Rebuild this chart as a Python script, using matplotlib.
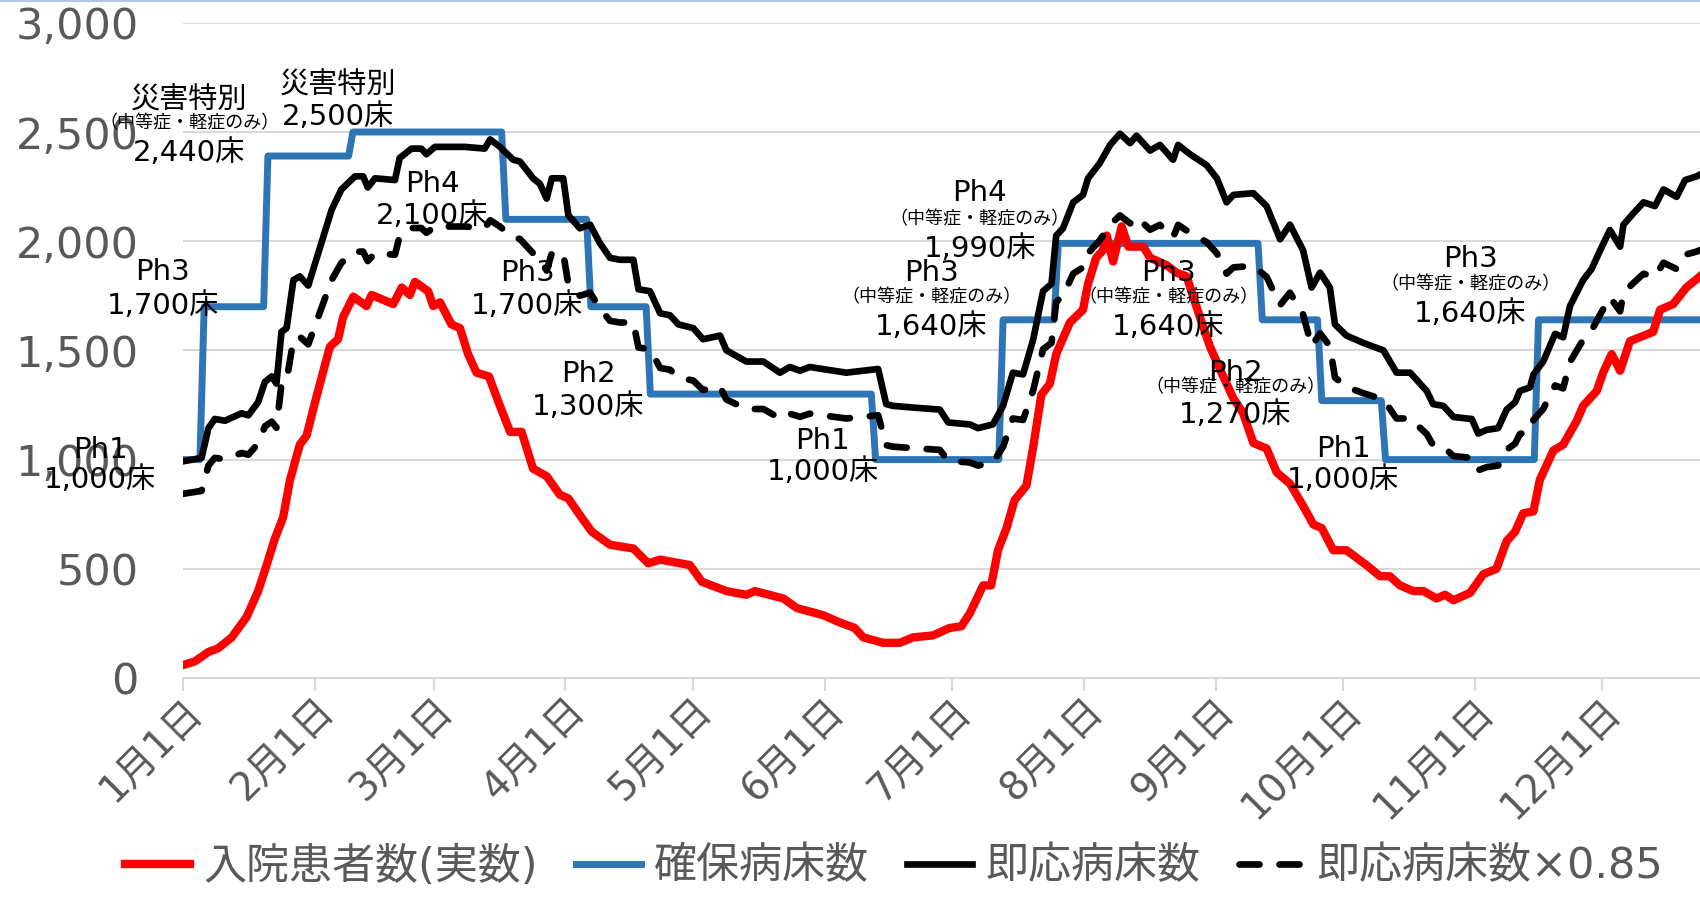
import matplotlib
matplotlib.use('Agg')
import matplotlib.pyplot as plt
import numpy as np
from matplotlib.lines import Line2D
from matplotlib.transforms import ScaledTranslation

plt.rcParams['font.family'] = ['DejaVu Sans', 'Noto Sans CJK JP']

# x axis: day of year (0 = 1月1日)
month_days = [0, 31, 59, 90, 120, 151, 181, 212, 243, 273, 304, 334]
month_labels = ['1月1日', '2月1日', '3月1日', '4月1日', '5月1日', '6月1日',
                '7月1日', '8月1日', '9月1日', '10月1日', '11月1日', '12月1日']

# 入院患者数(実数)
red_days = [0, 2.8, 6, 8.3, 11.5, 15, 17.7, 19.7, 21.6, 23.6, 25.2, 27.5, 29.1, 31.1,
            33.4, 34.6, 36.5, 37.7, 40.1, 43.2, 44.4, 49.5, 51.5, 53.4, 54.6, 57.7,
            58.9, 60.5, 63.2, 65.2, 67.1, 69.1, 72, 74.6, 77, 79.7, 82.4, 85.6, 88.7,
            90.7, 93.4, 96.2, 100.5, 106, 109.5, 112.3, 119.3, 122.1, 127.9, 132.6,
            134.6, 141.3, 144.5, 150.6, 154.6, 158.1, 160.1, 164.8, 168.7, 171.8,
            176.5, 180.4, 183.2, 185.2, 188.3, 190.2, 191.8, 193.8, 195.7, 198.5,
            200.1, 202, 204, 205.5, 208.7, 211.8, 213, 214.9, 216.5, 217.4, 218.9,
            220.9, 222.5, 226, 227.6, 231.5, 233.8, 236.2, 239.3, 241.7, 244.4,
            247.2, 249.5, 251.9, 255, 257.4, 260.5, 263.6, 266, 268, 270.7, 273.8,
            278.5, 281.7, 284, 286.4, 289.5, 291.9, 295, 297, 299, 302.9, 306,
            309.1, 311.5, 313.5, 315.4, 317.8, 319.3, 322.5, 324.8, 328, 329.5,
            332.7, 334.2, 336.2, 338.2, 340.5, 346, 347.6, 350.7, 353.8, 357]
red_vals = [59, 76, 119, 136, 186, 280, 398, 517, 636, 737, 907, 1068, 1110, 1263,
            1432, 1517, 1551, 1653, 1746, 1703, 1754, 1712, 1788, 1754, 1814, 1771,
            1703, 1720, 1619, 1602, 1483, 1398, 1381, 1246, 1127, 1127, 958, 924, 839,
            822, 746, 670, 610, 593, 525, 542, 517, 441, 398, 381,
            398, 364, 320, 288, 254, 229, 186, 161, 161, 186,
            195, 229, 237, 297, 424, 424, 585, 686, 814, 881,
            1059, 1297, 1347, 1483, 1627, 1686, 1805, 1924, 1958, 2026, 1907,
            2068, 1975, 1975, 1924, 1890, 1856, 1839, 1653, 1517, 1398,
            1280, 1212, 1076, 1051, 941, 890, 788, 703, 686, 585, 585,
            517, 466, 466, 424, 398, 398, 364, 381, 356, 390, 475,
            500, 627, 670, 754, 763, 907, 1042, 1068, 1178, 1246,
            1314, 1398, 1483, 1407, 1542, 1585, 1686, 1712, 1788, 1839]

# 即応病床数
black_days = [0, 4.4, 6, 7.5, 9.9, 13.8, 15.4, 17.7, 19.3, 20.9, 22, 23.2, 24.4, 26,
              27.5, 29.5, 32.6, 35, 37.3, 40.5, 42.4, 43.5, 45.2, 49.9, 51, 53.8, 56.1,
              57.3, 59.3, 66.3, 71, 72.3, 74.6, 77.7, 79.3, 82.4, 84, 85.6, 86.8, 89.5,
              90.7, 93.4, 95.8, 98.1, 100.5, 102.8, 106, 107.2, 109.9, 112.3, 114.6,
              116.6, 120.1, 122.4, 126.4, 127.9, 132.6, 136.6, 140.5, 142.8, 145.2,
              147.5, 156.1, 163.6, 165.5, 167.1, 172.6, 178.1, 180.1, 185.2, 187.1,
              190.6, 193, 195.3, 197.7, 200.1, 202.4, 204.4, 205.5, 207.1, 209.5,
              211.8, 213, 215.7, 218.2, 220.5, 222.9, 224.4, 227.6, 229.9, 233,
              234.2, 237, 240.9, 243.3, 245.6, 247.2, 251.9, 255, 258.2, 260.5,
              263.6, 265.6, 267.6, 269.9, 271.1, 273.8, 277.8, 282.5, 285.6, 288.8,
              292.7, 294.2, 296.6, 299, 303.3, 304.8, 306.8, 309.5, 311.5, 313.5,
              314.6, 317, 317.8, 320.1, 322.9, 324.8, 326.4, 329.5, 331.5, 333.5,
              335.8, 338.2, 339, 341.3, 343.7, 346.4, 348.4, 351.5, 353.5, 356.2, 357]
black_vals = [992, 1008, 1144, 1186, 1178, 1212, 1203, 1263, 1356, 1381, 1348, 1585, 1602, 1822,
              1839, 1797, 1992, 2144, 2237, 2297, 2297, 2246, 2288, 2280, 2381, 2424, 2424,
              2398, 2432, 2432, 2424, 2466, 2432, 2373, 2365, 2288, 2263, 2195, 2288, 2288,
              2119, 2059, 2076, 1992, 1924, 1915, 1915, 1780, 1771, 1670, 1661,
              1619, 1602, 1551, 1568, 1500, 1449, 1449, 1398, 1424, 1407,
              1424, 1398, 1415, 1254, 1246, 1237, 1229, 1170, 1161, 1144,
              1161, 1246, 1398, 1390, 1551, 1771, 1805, 2026, 2059, 2178,
              2212, 2288, 2356, 2441, 2492, 2449, 2483, 2415, 2441, 2373,
              2441, 2398, 2348, 2288, 2178, 2212, 2220, 2161, 2009, 2076,
              1958, 1788, 1856, 1788, 1619, 1568, 1534, 1500, 1398, 1398,
              1314, 1254, 1246, 1195, 1186, 1119, 1136, 1144, 1229, 1263,
              1314, 1331, 1390, 1449, 1576, 1560, 1703, 1822, 1873, 1958,
              2051, 1975, 2076, 2127, 2178, 2161, 2237, 2203, 2280, 2297, 2305]

# 即応病床数×0.85
dashed_vals = [v * 0.85 for v in black_vals]

# 確保病床数 (step: day it starts, value)
blue_start = [0, 5, 20, 40, 76, 96, 110, 163, 193, 206, 254, 268, 283, 319]
blue_vals = [1000, 1700, 2390, 2500, 2100, 1700, 1300, 1000, 1640, 1990, 1640, 1270, 1000, 1640]
last_day = 358

blue_days = np.arange(0, last_day)
blue_series = np.zeros(len(blue_days))
for s, v in zip(blue_start, blue_vals):
    blue_series[blue_days >= s] = v

# annotations
small = '（中等症・軽症のみ）'
ann_x = [1.5, 1.5, 1.5, 36.5, 36.5, -4.8, -4.8, -19.5, -19.5, 58.7, 58.7,
         81, 81, 95.4, 95.4, 150.5, 150.5,
         187.5, 187.5, 187.5, 176.1, 176.1, 176.1, 231.9, 231.9, 231.9,
         247.6, 247.6, 247.6, 273, 273, 302.9, 302.9, 302.9]
ann_y = [2645, 2540, 2405, 2715, 2570, 1858, 1705, 1045, 908, 2260, 2115,
         1855, 1705, 1390, 1240, 1085, 945,
         2222, 2100, 1965, 1855, 1744, 1605, 1855, 1744, 1605,
         1395, 1332, 1205, 1050, 905, 1920, 1803, 1665]
ann_text = ['災害特別', small, '2,440床', '災害特別', '2,500床', 'Ph3', '1,700床', 'Ph1', '1,000床',
            'Ph4', '2,100床', 'Ph3', '1,700床', 'Ph2', '1,300床', 'Ph1', '1,000床',
            'Ph4', small, '1,990床', 'Ph3', small, '1,640床', 'Ph3', small, '1,640床',
            'Ph2', small, '1,270床', 'Ph1', '1,000床', 'Ph3', small, '1,640床']

gray = '#595959'
grid_c = '#D9D9D9'
red_c = '#FF0000'
blue_c = '#2E75B6'
dash = (0, (3, 3))

fig = plt.figure(figsize=(17, 8.98), dpi=100)
ax = fig.add_axes([0.1076, 0.245, 0.8924, 0.7296])

ax.plot(blue_days, blue_series, color=blue_c, lw=5, zorder=2)
ax.plot(red_days, red_vals, color=red_c, lw=6, solid_joinstyle='round', zorder=3)
ax.plot(black_days, black_vals, color='black', lw=4.8, solid_joinstyle='round', zorder=4)
ax.plot(black_days, dashed_vals, color='black', lw=4.8, ls=dash,
        dash_capstyle='round', zorder=4)

for x, y, t in zip(ann_x, ann_y, ann_text):
    fs = 13 if t == small else 21
    ax.text(x, y, t, ha='center', va='center', fontsize=fs, color='black',
            clip_on=False, zorder=6)

ax.set_xlim(0, 357)
ax.set_ylim(0, 3000)
ax.set_yticks(np.arange(0, 3001, 500))
ax.set_yticklabels([f'{v:,}' for v in range(0, 3001, 500)])
ax.set_xticks(month_days)
ax.set_xticklabels(month_labels, rotation=45, ha='right', va='top',
                   rotation_mode='anchor')
shift = ScaledTranslation(-0.11, 0, fig.dpi_scale_trans)
for lab in ax.get_xticklabels():
    lab.set_transform(lab.get_transform() + shift)

ax.grid(axis='y', color=grid_c, lw=1.5, zorder=0)
ax.set_axisbelow(True)
for s in ['top', 'right', 'left']:
    ax.spines[s].set_visible(False)
ax.spines['bottom'].set_color(grid_c)
ax.spines['bottom'].set_linewidth(1.5)
ax.tick_params(axis='y', length=0, pad=32, labelsize=31, labelcolor=gray)
ax.tick_params(axis='x', length=9, width=1.5, color=grid_c, pad=1,
               labelsize=28, labelcolor=gray)

# legend
handles = [Line2D([], [], color=red_c, lw=6),
           Line2D([], [], color=blue_c, lw=5),
           Line2D([], [], color='black', lw=4.8),
           Line2D([], [], color='black', lw=4.8, ls=dash, dash_capstyle='round')]
labels = ['入院患者数(実数)', '確保病床数', '即応病床数', '即応病床数×0.85']
leg = fig.legend(handles, labels, loc='center', bbox_to_anchor=(0.526, 0.035),
                 ncol=4, frameon=False, fontsize=31, handlelength=1.5,
                 handletextpad=0.3, columnspacing=0.9, labelcolor=gray,
                 borderpad=0, borderaxespad=0)

fig.add_artist(Line2D([0, 1], [0.999, 0.999], color='#B4C6E7', lw=1.5))

fig.savefig('out.png', dpi=100)
